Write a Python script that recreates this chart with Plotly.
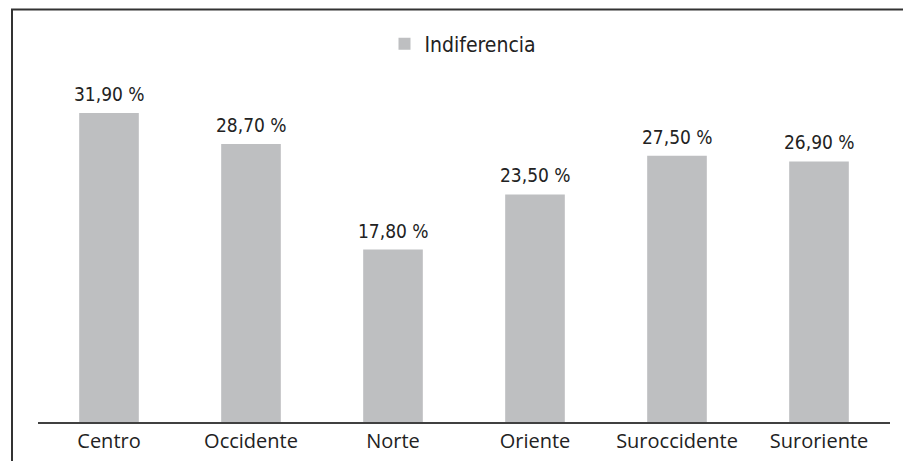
import plotly.graph_objects as go

categories = ["Centro", "Occidente", "Norte", "Oriente", "Suroccidente", "Suroriente"]
values = [31.90, 28.70, 17.80, 23.50, 27.50, 26.90]
series_name = "Indiferencia"
labels = [f"{v:.2f}".replace(".", ",") + " %" for v in values]

W, H = 895, 453
ml, mr, mt, mb = 30, 13, 75, 39
pw, ph = W - ml - mr, H - mt - mb

def px_x(x):
    return (x - ml) / pw

def px_y(y):
    return (H - mb - y) / ph

label_font = "DejaVu Sans Condensed, DejaVu Sans, sans-serif"
cat_font = "Open Sans, sans-serif"

fig = go.Figure()
fig.add_trace(go.Bar(
    x=categories, y=values, name=series_name,
    marker=dict(color="#bebfc1", line=dict(width=0)),
    width=0.42,
    showlegend=True,
))

for c, v, t in zip(categories, values, labels):
    fig.add_annotation(x=c, y=v, text=t, showarrow=False, yanchor="bottom",
                       yshift=6, font=dict(family=label_font, size=19, color="#222222"))

fig.update_layout(
    width=W, height=H,
    margin=dict(l=ml, r=mr, t=mt, b=mb, pad=0, autoexpand=False),
    paper_bgcolor="white", plot_bgcolor="white",
    showlegend=True,
    legend=dict(orientation="h", x=px_x(455), xanchor="center", y=px_y(36), yanchor="middle",
                font=dict(family=label_font, size=21, color="#222222"),
                bgcolor="rgba(0,0,0,0)"),
    xaxis=dict(showline=True, linecolor="#404040", linewidth=2, ticks="",
               tickfont=dict(family=cat_font, size=20, color="#222222"),
               showgrid=False, zeroline=False, range=[-0.5, 5.5], automargin=False),
    yaxis=dict(range=[0, 35], showticklabels=False, showgrid=False, zeroline=False,
               showline=False, ticks="", automargin=False),
    shapes=[
        dict(type="line", xref="paper", yref="paper", x0=px_x(4), x1=px_x(4),
             y0=px_y(1.5), y1=px_y(500), line=dict(color="#333333", width=2)),
        dict(type="line", xref="paper", yref="paper", x0=px_x(3), x1=px_x(960),
             y0=px_y(1.5), y1=px_y(1.5), line=dict(color="#333333", width=2)),
    ],
)

fig.write_html("out.html")
